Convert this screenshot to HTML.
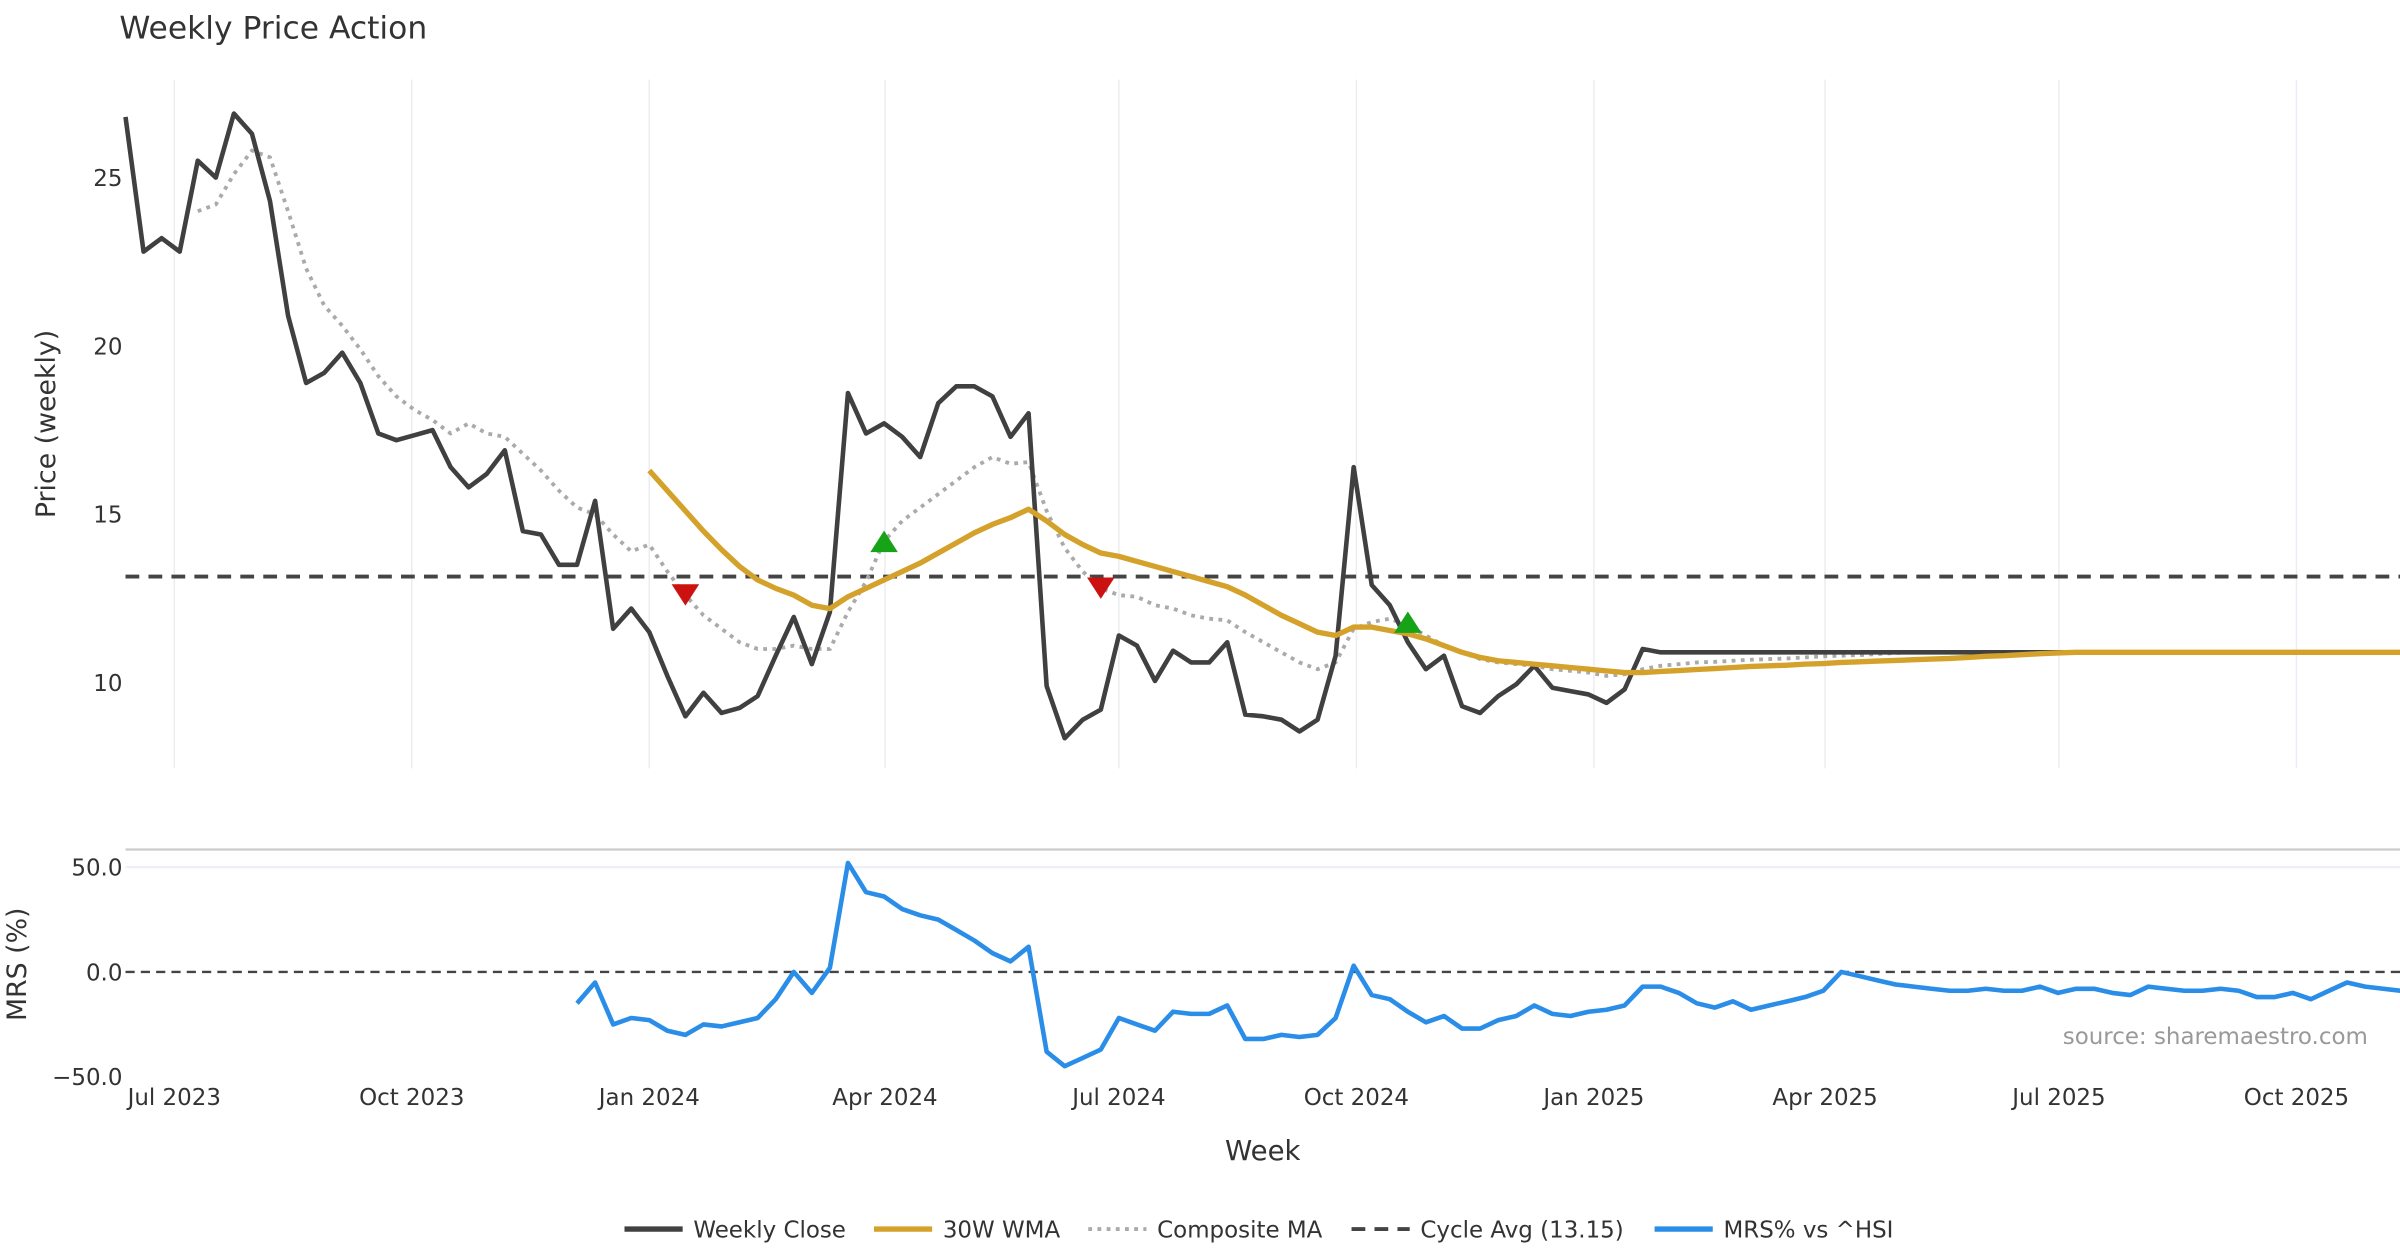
<!DOCTYPE html>
<html><head><meta charset="utf-8"><style>
html,body{margin:0;padding:0;background:#fff;}
svg{display:block;font-family:"DejaVu Sans","Liberation Sans",sans-serif;}
</style></head><body>
<svg id="chart" width="2400" height="1260" viewBox="0 0 1568 823.2" xmlns="http://www.w3.org/2000/svg">
<rect width="1568" height="823.2" fill="#fff"/>
<text x="78" y="25" font-size="20.5" fill="#333">Weekly Price Action</text>
<g id="grid"></g>
<g id="main"></g>
<g id="mrs"></g>
<text transform="translate(36,277) rotate(-90)" text-anchor="middle" font-size="17.5" fill="#333">Price (weekly)</text>
<text transform="translate(17,630) rotate(-90)" text-anchor="middle" font-size="17.5" fill="#333">MRS (%)</text>
<text x="825" y="758" text-anchor="middle" font-size="18" fill="#333">Week</text>
<text x="1547" y="682" text-anchor="end" font-size="15" fill="#999">source: sharemaestro.com</text>
<g font-size="15" fill="#333">
 <g><line x1="408" y1="803" x2="446" y2="803" stroke="#404040" stroke-width="3.5"/><text x="453" y="808.5">Weekly Close</text></g>
 <g><line x1="571" y1="803" x2="609" y2="803" stroke="#d4a22a" stroke-width="3.5"/><text x="616" y="808.5">30W WMA</text></g>
 <g><line x1="711" y1="803" x2="749" y2="803" stroke="#aaa" stroke-width="2.5" stroke-dasharray="2.5,3.5"/><text x="756" y="808.5">Composite MA</text></g>
 <g><line x1="883" y1="803" x2="921" y2="803" stroke="#444" stroke-width="2.5" stroke-dasharray="9,6"/><text x="928" y="808.5">Cycle Avg (13.15)</text></g>
 <g><line x1="1081" y1="803" x2="1119" y2="803" stroke="#2a8de8" stroke-width="3.5"/><text x="1126" y="808.5">MRS% vs ^HSI</text></g>
</g>
</svg>
<script>
const xTickLabels = ["Jul 2023","Oct 2023","Jan 2024","Apr 2024","Jul 2024","Oct 2024","Jan 2025","Apr 2025","Jul 2025","Oct 2025"];
const xTickWeeks = [2.7,15.85,29,42.05,55,68.15,81.3,94.1,107.05,120.2];
const priceTicks = [10,15,20,25];
const mrsTicks = [-50,0,50];
const cycleAvg = 13.15;
const weeklyClose = [26.8,22.8,23.2,22.8,25.5,25.0,26.9,26.3,24.3,20.9,18.9,19.2,19.8,18.9,17.4,17.2,17.35,17.5,16.4,15.8,16.2,16.9,14.5,14.4,13.5,13.5,15.4,11.6,12.2,11.5,10.2,9.0,9.7,9.1,9.25,9.6,10.8,11.95,10.55,12.1,18.6,17.4,17.7,17.3,16.7,18.3,18.8,18.8,18.5,17.3,18.0,9.9,8.35,8.9,9.2,11.4,11.1,10.05,10.95,10.6,10.6,11.2,9.05,9.0,8.9,8.55,8.9,10.8,16.4,12.9,12.3,11.2,10.4,10.8,9.3,9.1,9.6,9.95,10.5,9.85,9.75,9.65,9.4,9.8,11.0,10.9,10.9,10.9,10.9,10.9,10.9,10.9,10.9,10.9,10.9,10.9,10.9,10.9,10.9,10.9,10.9,10.9,10.9,10.9,10.9,10.9,10.9,10.9,10.9,10.9,10.9,10.9,10.9,10.9,10.9,10.9,10.9,10.9,10.9,10.9,10.9,10.9,10.9,10.9,10.9,10.9,10.9];
const wmaStart = 29;
const wma30 = [16.3,15.7,15.1,14.5,13.95,13.45,13.05,12.8,12.6,12.3,12.2,12.55,12.8,13.05,13.3,13.55,13.85,14.15,14.45,14.7,14.9,15.15,14.8,14.4,14.1,13.85,13.75,13.6,13.45,13.3,13.15,13.0,12.85,12.6,12.3,12.0,11.75,11.5,11.4,11.65,11.65,11.55,11.45,11.3,11.1,10.9,10.75,10.65,10.6,10.55,10.5,10.45,10.4,10.35,10.3,10.3,10.33,10.36,10.39,10.42,10.45,10.48,10.5,10.52,10.55,10.57,10.6,10.62,10.64,10.66,10.68,10.7,10.72,10.75,10.78,10.8,10.83,10.86,10.88,10.9,10.9,10.9,10.9,10.9,10.9,10.9,10.9,10.9,10.9,10.9,10.9,10.9,10.9,10.9,10.9,10.9,10.9,10.9,10.9];
const compStart = 4;
const compositeMA = [24.0,24.2,25.1,25.8,25.6,24.0,22.3,21.2,20.6,19.9,19.1,18.5,18.1,17.8,17.4,17.7,17.4,17.3,16.8,16.3,15.7,15.2,15.0,14.4,13.9,14.1,13.3,12.6,12.0,11.6,11.2,11.0,11.0,11.1,11.0,11.0,12.1,13.0,14.2,14.8,15.2,15.6,16.0,16.4,16.7,16.5,16.55,15.1,14.0,13.3,12.8,12.6,12.55,12.3,12.2,12.0,11.9,11.85,11.5,11.2,10.9,10.6,10.4,10.6,11.6,11.8,11.9,11.7,11.4,11.1,10.9,10.7,10.6,10.55,10.5,10.4,10.35,10.3,10.2,10.25,10.4,10.5,10.55,10.6,10.62,10.65,10.68,10.7,10.72,10.75,10.78,10.8,10.82,10.85,10.88,10.9,10.9,10.9,10.9,10.9,10.9,10.9,10.9,10.9,10.9,10.9,10.9,10.9,10.9,10.9,10.9,10.9,10.9,10.9,10.9,10.9,10.9,10.9,10.9,10.9,10.9,10.9,10.9];
const mrsStart = 25;
const mrsValues = [-15,-5,-25,-22,-23,-28,-30,-25,-26,-24,-22,-13,0,-10,2,52,38,36,30,27,25,20,15,9,5,12,-38,-45,-41,-37,-22,-25,-28,-19,-20,-20,-16,-32,-32,-30,-31,-30,-22,3,-11,-13,-19,-24,-21,-27,-27,-23,-21,-16,-20,-21,-19,-18,-16,-7,-7,-10,-15,-17,-14,-18,-16,-14,-12,-9,0,-2,-4,-6,-7,-8,-9,-9,-8,-9,-9,-7,-10,-8,-8,-10,-11,-7,-8,-9,-9,-8,-9,-12,-12,-10,-13,-9,-5,-7,-8,-9];
const signalWeeks = [31,42,54,71];
const signalValues = [12.65,14.15,12.85,11.75];
const signalDirs = ["down","up","down","up"];

const NS="http://www.w3.org/2000/svg";
const X = i => 82 + i*11.8;
const Y = v => 446 - (v-10)*22;
const YM = v => 635 - v*1.37;
function mk(tag, attrs, parent){const e=document.createElementNS(NS,tag);for(const k in attrs)e.setAttribute(k,attrs[k]);parent.appendChild(e);return e;}
const grid=document.getElementById('grid'), main=document.getElementById('main'), mrs=document.getElementById('mrs');

xTickWeeks.forEach((w,k)=>{
  const gl=mk('line',{x1:X(w),x2:X(w),y1:52,y2:502,stroke:'#ebedf2','stroke-width':1},grid);
  
  
  const t=mk('text',{x:X(w),y:722,'text-anchor':'middle','font-size':15,fill:'#333'},grid);
  t.textContent=xTickLabels[k];
  
  
});
priceTicks.forEach(v=>{
  const t=mk('text',{x:80,y:Y(v)+5.5,'text-anchor':'end','font-size':15,fill:'#333'},grid);
  t.textContent=v;
  
  
});
function pathFrom(vals,start,yf){return vals.map((v,i)=>(i?'L':'M')+X(start+i).toFixed(1)+','+yf(v).toFixed(1)).join('');}

const cyc=mk('line',{x1:82,x2:1568,y1:Y(cycleAvg),y2:Y(cycleAvg),stroke:'#444','stroke-width':2.5,'stroke-dasharray':'9,6'},main);


const comp=mk('path',{d:pathFrom(compositeMA,compStart,Y),fill:'none',stroke:'#aaa','stroke-width':2.5,'stroke-dasharray':'2.5,3.5'},main);


const cl=mk('path',{d:pathFrom(weeklyClose,0,Y),fill:'none',stroke:'#404040','stroke-width':3,'stroke-linejoin':'round'},main);


const wl=mk('path',{d:pathFrom(wma30,wmaStart,Y),fill:'none',stroke:'#d4a22a','stroke-width':3.5,'stroke-linejoin':'round'},main);


signalWeeks.forEach((w,k)=>{
  const cx=X(w), cy=Y(signalValues[k]);
  const pts = signalDirs[k]==='up' ? `${cx-9},${cy+6} ${cx+9},${cy+6} ${cx},${cy-8}` : `${cx-9},${cy-6} ${cx+9},${cy-6} ${cx},${cy+8}`;
  const m=mk('polygon',{points:pts,fill:signalDirs[k]==='up'?'#17a317':'#cc1111'},main);
  
  
});

const sep=mk('line',{x1:82,x2:1568,y1:555,y2:555,stroke:'#ccc','stroke-width':1.5},mrs);


const g50=mk('line',{x1:82,x2:1568,y1:YM(50),y2:YM(50),stroke:'#eef0f5','stroke-width':1.5},mrs);


const z=mk('line',{x1:82,x2:1568,y1:YM(0),y2:YM(0),stroke:'#444','stroke-width':1.5,'stroke-dasharray':'6,4'},mrs);


mrsTicks.forEach(v=>{
  const t=mk('text',{x:80,y:YM(v)+5.5,'text-anchor':'end','font-size':15,fill:'#333'},mrs);
  t.textContent=(v<0?'\u2212':'')+Math.abs(v).toFixed(1);
  
  
});
const ml=mk('path',{d:pathFrom(mrsValues,mrsStart,YM),fill:'none',stroke:'#2a8de8','stroke-width':3,'stroke-linejoin':'round'},mrs);


</script>
</body></html>
